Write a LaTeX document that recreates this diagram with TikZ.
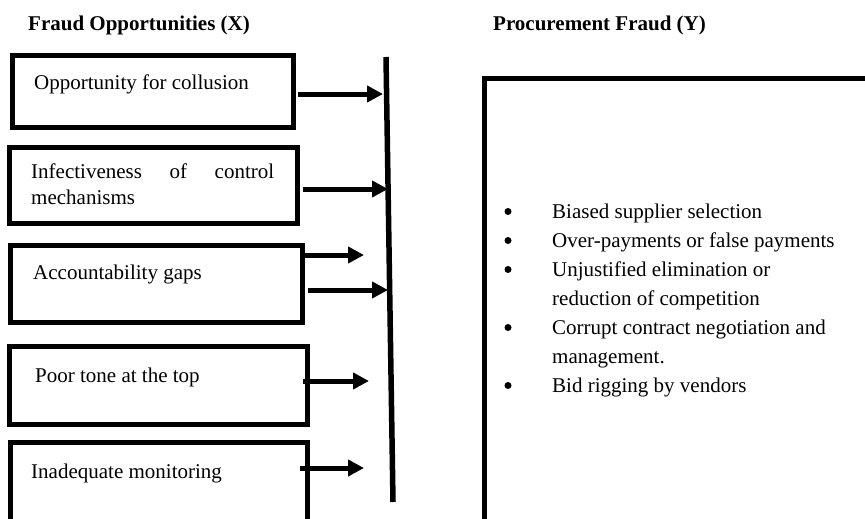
\documentclass[tikz,border=0pt]{standalone}
\usepackage{fontspec}
\setmainfont{Liberation Serif}
\usetikzlibrary{arrows.meta}
\begin{document}
\begin{tikzpicture}[x=1pt,y=-1pt,
  box/.style={draw,line width=5pt,rectangle,inner sep=0pt},
  lbl/.style={anchor=base west,inner sep=0pt,font=\fontsize{21}{26}\selectfont},
  ttl/.style={anchor=base west,inner sep=0pt,font=\fontsize{21}{26}\selectfont\bfseries},
  arr/.style={line width=5pt,-{Triangle[length=16pt,width=16pt]}},
  bar/.style={line width=5.5pt},
  dot/.style={circle,fill,inner sep=0pt,minimum size=7pt}]
\useasboundingbox (0,0) rectangle (865,519);
\clip (0,0) rectangle (865,519);
% titles
\node[ttl] (tx) at (28,31) {Fraud Opportunities (X)};
\node[ttl] (ty) at (493,31) {Procurement Fraud (Y)};
% left boxes
\node[box,minimum width=281pt,minimum height=71pt] (b1) at (152.5,91.5) {};
\node[box,minimum width=288pt,minimum height=76pt] (b2) at (153,185) {};
\node[box,minimum width=292pt,minimum height=77pt] (b3) at (156,283.5) {};
\node[box,minimum width=298pt,minimum height=78pt] (b4) at (158,385) {};
\node[box,minimum width=297pt,minimum height=110pt] (b5) at (158.5,497.5) {};
% box texts
\node[lbl] (t1) at (34,89) {Opportunity for collusion};
\node[lbl] (t2) at (31,178) {\makebox[243pt][s]{Infectiveness of control}};
\node[lbl] (t2b) at (31,204) {mechanisms};
\node[lbl] (t3) at (33,279) {Accountability gaps};
\node[lbl] (t4) at (35,382) {Poor tone at the top};
\node[lbl] (t5) at (31,478) {Inadequate monitoring};
% vertical bar
\coordinate (vt) at (386,57);
\coordinate (vb) at (393,502);
\draw[bar] (vt) -- (vb);
% arrow endpoints
\coordinate (a1s) at (298,94);  \coordinate (a1e) at (383,94);
\coordinate (a2s) at (303,189); \coordinate (a2e) at (388,189);
\coordinate (a3s) at (300,255); \coordinate (a3e) at (364,255);
\coordinate (a4s) at (308,290); \coordinate (a4e) at (388,290);
\coordinate (a5s) at (303,381); \coordinate (a5e) at (369,381);
\coordinate (a6s) at (300,468); \coordinate (a6e) at (364,468);
\draw[arr] (a1s) -- (a1e);
\draw[arr] (a2s) -- (a2e);
\draw[arr] (a3s) -- (a3e);
\draw[arr] (a4s) -- (a4e);
\draw[arr] (a5s) -- (a5e);
\draw[arr] (a6s) -- (a6e);
% right box
\node[box,minimum width=440pt,minimum height=500pt,anchor=north west] (yb) at (482,76) {};
% bullets
\foreach \y/\n in {218/p1,247/p2,276/p3,334/p4,392/p5}{
  \node[dot] (\n) at (508,\y-6.5) {};
}
\node[lbl] (l1) at (552,218) {Biased supplier selection};
\node[lbl] (l2) at (552,247) {Over-payments or false payments};
\node[lbl] (l3) at (552,276) {Unjustified elimination or};
\node[lbl] (l3b) at (552,305) {reduction of competition};
\node[lbl] (l4) at (552,334) {Corrupt contract negotiation and};
\node[lbl] (l4b) at (552,363) {management.};
\node[lbl] (l5) at (552,392) {Bid rigging by vendors};
\end{tikzpicture}
\end{document}
